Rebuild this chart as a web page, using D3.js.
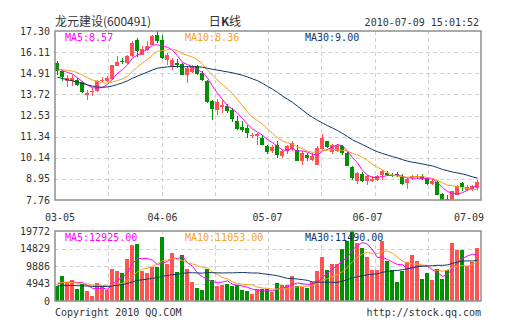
<!DOCTYPE html>
<html>
<head>
<meta charset="utf-8">
<script src="https://cdn.jsdelivr.net/npm/d3@7"></script>
<style>
  html, body { margin: 0; padding: 0; background: #fff; }
  svg { display: block; }
</style>
</head>
<body>
<svg id="chart" width="505" height="330"></svg>
<script>
// ---- daily bars, 600491, 2010-03-05 .. 2010-07-09 ----
const openPrice = [15.49,15.07,14.46,14.46,14.55,14.42,13.70,13.86,13.93,14.49,14.46,14.61,15.31,15.62,15.49,15.87,16.81,15.96,16.24,16.53,17.09,16.81,15.68,15.31,15.49,15.45,14.83,14.99,15.31,14.93,14.46,13.33,12.86,13.01,13.05,12.86,12.20,11.88,11.82,11.39,11.37,11.26,10.79,10.54,10.88,10.23,10.51,10.66,10.60,9.98,10.32,10.03,9.75,10.66,11.07,10.47,10.54,10.79,10.41,9.61,8.82,9.23,8.82,8.85,8.91,9.15,9.28,9.19,9.23,9.10,8.72,9.00,9.04,9.13,8.96,8.66,8.78,8.10,7.83,7.78,8.06,8.72,8.34,8.34,8.44];
const highPrice = [15.59,15.12,14.83,14.83,14.65,14.49,13.99,14.08,14.55,14.69,14.74,15.40,15.87,15.78,15.96,16.72,16.90,16.44,16.72,17.09,17.30,17.09,16.06,15.78,15.74,15.49,15.31,15.40,15.36,15.06,14.55,13.42,13.48,13.48,13.18,12.95,12.48,12.20,12.01,11.54,11.53,11.45,10.88,10.88,11.11,10.60,10.88,11.07,10.88,10.51,10.41,10.41,10.79,11.49,11.11,10.92,10.92,10.88,10.47,9.66,9.34,9.34,9.19,9.10,9.19,9.47,9.38,9.28,9.34,9.23,9.04,9.19,9.23,9.23,9.04,9.00,8.91,8.16,8.06,8.28,8.59,8.78,8.62,8.62,8.91];
const lowPrice = [14.83,14.50,14.12,14.18,14.18,13.80,13.42,13.61,13.86,14.42,14.40,14.55,15.31,15.44,15.44,15.82,15.82,15.93,16.15,16.49,16.62,15.74,15.36,15.12,15.21,14.80,14.36,14.93,14.83,14.46,13.24,12.29,12.58,12.67,12.67,12.16,11.73,11.60,11.26,11.26,10.85,10.85,10.36,10.41,10.13,10.13,10.36,10.51,9.94,9.72,9.94,9.98,9.72,10.60,10.70,10.36,10.47,10.32,9.66,8.91,8.68,8.78,8.62,8.78,8.82,8.91,9.10,9.04,9.04,8.62,8.40,8.91,8.96,8.91,8.62,8.62,8.03,7.78,7.76,7.76,8.06,8.25,8.25,8.25,8.34];
const closePrice = [15.03,14.70,14.65,14.65,14.27,13.86,13.80,13.93,14.46,14.55,14.65,15.36,15.53,15.53,15.87,16.62,16.15,16.30,16.44,17.00,16.72,15.78,15.96,15.68,15.36,14.83,15.21,15.31,14.89,14.55,13.29,12.90,13.29,13.14,12.77,12.35,11.78,11.73,11.54,11.45,11.49,10.88,10.47,10.73,10.32,10.51,10.79,10.98,9.98,10.41,10.13,10.23,10.70,11.26,10.73,10.85,10.88,10.40,9.68,9.00,9.28,8.81,9.10,8.96,9.10,9.41,9.15,9.10,9.15,8.66,8.96,9.10,9.13,9.00,8.68,8.85,8.06,7.78,7.80,8.26,8.55,8.48,8.51,8.56,8.75];
const volume = [4270,7117,5288,5796,3254,4779,2745,1423,5085,4270,3051,9050,8542,7830,11897,15760,15965,8542,7830,9558,9660,18201,10371,13422,8135,12914,9152,5491,3763,3051,9152,5796,4270,4474,4779,4270,4474,3051,2745,2034,3254,3254,3254,2441,5085,4474,4474,7117,4270,4067,3559,5288,8542,12405,8846,10375,10579,14750,16987,19733,16275,14953,12409,8850,8850,16987,11393,8850,5493,8545,10884,12918,11393,6103,7843,5800,8900,6100,8700,16405,14500,14300,9800,11100,14925];

// sessions before 03-05, only used to seed the moving averages
const earlierClose = [16.9,16.7,16.6,16.4,16.2,16.1,16.0,15.92,15.0,14.2,13.6,13.0,12.7,12.5,12.4,12.5,12.8,13.0,13.4,13.78,14.6,14.9,15.1,15.2,15.25,15.3,15.2,15.12,15.3];
const earlierVolume = [5200,4600,5400,4900,5100,4500,5300,4800,4700,4398,3100,2600,2900,2400,2700,3000,2500,2800,3200,3202,5600,5100,5900,5200,5100,4600,5300,4900,4830];

// axis labels
const priceTicks = ["17.30","16.11","14.91","13.72","12.53","11.34","10.14","8.95","7.76"];
const volumeTicks = ["19772","14829","9886","4943","0"];
const dateLabels = ["03-05","04-06","05-07","06-07","07-09"];
const dateIndex = [0, 21, 42, 62, 84];

const maPeriods = [5, 10, 30];
const maColors = ["#ff00ff", "#f5a21e", "#0f3566"];

const stockTitle = "龙元建设(600491)";
const chartKind = ["日", "K", "线"];
const stamp = "2010-07-09 15:01:52";
const copyright = "Copyright 2010 QQ.COM";
const site = "http://stock.qq.com";

// ---- drawing ----
const UP = "#ff5252", DOWN = "#009000";
const MONO = "'DejaVu Sans Mono','Liberation Mono',monospace";
const CJK = "'Noto Sans CJK SC','Noto Sans',sans-serif";
const TEXT = "#333";

const N = closePrice.length;
const main = { left: 55, right: 481, top: 31, bottom: 200 };
const vol = { left: 55, right: 481, top: 231, bottom: 301 };

const svg = d3.select("#chart");

const x = d3.scaleBand().domain(d3.range(N)).range([54.5, 479.5])
  .paddingInner(0.2).paddingOuter(0.1);
const bw = x.bandwidth();
const cx = i => Math.floor(x(i) + bw / 2) + 0.5;

const y = d3.scaleLinear()
  .domain([+priceTicks[priceTicks.length - 1], +priceTicks[0]])
  .range([main.bottom, main.top]);
const yv = d3.scaleLinear()
  .domain([0, +volumeTicks[0]])
  .range([vol.bottom, vol.top]);

function movingAverage(earlier, values, n) {
  const all = earlier.concat(values);
  const off = earlier.length;
  return values.map((_, i) => d3.mean(all.slice(off + i - n + 1, off + i + 1)));
}

function drawGrid(panel, yScale, ticks) {
  const g = svg.append("g")
    .attr("stroke", "#d2d2d2").attr("stroke-dasharray", "4,3")
    .attr("shape-rendering", "crispEdges");
  ticks.slice(1, -1).forEach(t => {
    const yy = Math.round(yScale(+t)) + 0.5;
    g.append("line").attr("x1", panel.left).attr("x2", panel.right)
      .attr("y1", yy).attr("y2", yy);
  });
  const cols = 8, w = (panel.right - panel.left) / cols;
  d3.range(1, cols).forEach(k => {
    const xx = Math.round(panel.left + k * w) + 0.5;
    g.append("line").attr("x1", xx).attr("x2", xx)
      .attr("y1", panel.top).attr("y2", panel.bottom);
  });
}

function drawFrame(panel) {
  svg.append("rect")
    .attr("x", panel.left).attr("y", panel.top)
    .attr("width", panel.right - panel.left).attr("height", panel.bottom - panel.top)
    .attr("fill", "none").attr("stroke", "#8e8e8e").attr("stroke-width", 1.5);
}

function yLabels(yScale, ticks) {
  svg.append("g").selectAll("text").data(ticks).join("text")
    .attr("x", 50).attr("y", d => yScale(+d)).attr("dy", "0.35em")
    .attr("text-anchor", "end")
    .attr("font-family", MONO).attr("font-size", 10).attr("fill", TEXT)
    .text(d => d);
}

function drawMA(series, yScale, color) {
  svg.append("path")
    .datum(series)
    .attr("fill", "none").attr("stroke", color).attr("stroke-width", 1)
    .attr("d", d3.line().x((_, i) => cx(i)).y(v => yScale(v)));
}

function maLegend(values, top, digits) {
  const xs = [65, 185, 305];
  maPeriods.forEach((p, k) => {
    svg.append("text")
      .attr("x", xs[k]).attr("y", top)
      .attr("font-family", MONO).attr("font-size", 10).attr("fill", maColors[k])
      .text(`MA${p}:${values[k].toFixed(digits)}`);
  });
}

// header
svg.append("text").attr("x", 55).attr("y", 26)
  .attr("font-family", CJK).attr("font-size", 12).attr("fill", TEXT)
  .text(stockTitle);
const kind = svg.append("text").attr("x", 225).attr("y", 26).attr("text-anchor", "middle")
  .attr("font-family", CJK).attr("font-size", 12).attr("fill", TEXT);
chartKind.forEach((s, i) => kind.append("tspan").attr("font-weight", i === 1 ? "bold" : "normal").text(s));
svg.append("text").attr("x", 479).attr("y", 26).attr("text-anchor", "end")
  .attr("font-family", MONO).attr("font-size", 10).attr("fill", TEXT)
  .text(stamp);

// price panel
drawGrid(main, y, priceTicks);
yLabels(y, priceTicks);

const candles = svg.append("g").attr("shape-rendering", "crispEdges");
d3.range(N).forEach(i => {
  const up = closePrice[i] >= openPrice[i];
  const c = up ? UP : DOWN;
  candles.append("line")
    .attr("x1", cx(i)).attr("x2", cx(i))
    .attr("y1", y(highPrice[i])).attr("y2", y(lowPrice[i]))
    .attr("stroke", c);
  const top = y(Math.max(openPrice[i], closePrice[i]));
  const bot = y(Math.min(openPrice[i], closePrice[i]));
  candles.append("rect")
    .attr("x", x(i)).attr("width", bw)
    .attr("y", top).attr("height", Math.max(1, bot - top))
    .attr("fill", c);
});

const priceMA = maPeriods.map(p => movingAverage(earlierClose, closePrice, p));
priceMA.forEach((s, k) => drawMA(s, y, maColors[k]));
drawFrame(main);
maLegend(priceMA.map(s => s[N - 1]), 40.5, 2);

// date labels, kept inside the chart edges
svg.append("g").selectAll("text").data(dateLabels).join("text")
  .attr("x", (d, k) => Math.max(60, Math.min(469, cx(dateIndex[k]))))
  .attr("y", 220.5).attr("text-anchor", "middle")
  .attr("font-family", MONO).attr("font-size", 10).attr("fill", TEXT)
  .text(d => d);

// volume panel
drawGrid(vol, yv, volumeTicks);
yLabels(yv, volumeTicks);

const bars = svg.append("g").attr("shape-rendering", "crispEdges");
d3.range(N).forEach(i => {
  const up = closePrice[i] >= openPrice[i];
  bars.append("rect")
    .attr("x", x(i)).attr("width", bw)
    .attr("y", yv(volume[i])).attr("height", yv(0) - yv(volume[i]))
    .attr("fill", up ? UP : DOWN);
});

const volumeMA = maPeriods.map(p => movingAverage(earlierVolume, volume, p));
volumeMA.forEach((s, k) => drawMA(s, yv, maColors[k]));
drawFrame(vol);
maLegend(volumeMA.map(s => s[N - 1]), 240.5, 2);

// footer
svg.append("text").attr("x", 55).attr("y", 316)
  .attr("font-family", MONO).attr("font-size", 10).attr("fill", TEXT).text(copyright);
svg.append("text").attr("x", 481).attr("y", 316).attr("text-anchor", "end")
  .attr("font-family", MONO).attr("font-size", 10).attr("fill", TEXT).text(site);
</script>
</body>
</html>
